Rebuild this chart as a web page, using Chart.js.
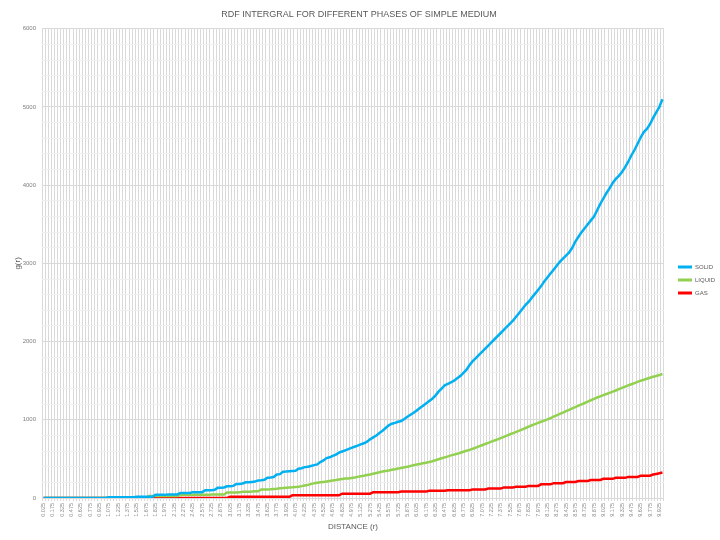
<!DOCTYPE html>
<html>
<head>
<meta charset="utf-8">
<script src="https://cdn.jsdelivr.net/npm/chart.js@4/dist/chart.umd.min.js"></script>
<style>
  html, body { margin: 0; padding: 0; background: #ffffff; }
  #wrap { width: 720px; height: 540px; }
</style>
</head>
<body>
<div id="wrap"><canvas id="rdfChart" width="720" height="540"></canvas></div>
<script>
// distance bins 0.025 .. 9.975, step 0.05
const distances = [];
for (let i = 0; i < 200; i++) distances.push((0.025 + i * 0.05).toFixed(3));

const solid = [
    0, 0, 0, 0, 0, 0, 0, 0, 0, 0,
    0, 0, 0, 0, 0, 0, 0, 0, 0, 0,
    0, 10, 10, 10, 10, 10, 10, 10, 10, 10,
    15, 15, 15, 15, 15, 15, 40, 40, 40, 40,
    45, 45, 45, 45, 65, 65, 65, 65, 75, 75,
    75, 75, 100, 100, 100, 105, 130, 130, 135, 150,
    150, 155, 180, 180, 185, 200, 200, 205, 210, 225,
    228, 232, 260, 262, 268, 300, 305, 335, 338, 342,
    345, 348, 375, 380, 395, 400, 410, 420, 430, 460,
    480, 510, 520, 540, 555, 580, 595, 610, 625, 640,
    655, 670, 685, 700, 720, 750, 775, 800, 830, 860,
    895, 930, 950, 960, 975, 985, 1010, 1040, 1065, 1090,
    1120, 1150, 1180, 1210, 1240, 1270, 1310, 1360, 1400, 1440,
    1460, 1480, 1500, 1530, 1560, 1600, 1640, 1700, 1750, 1790,
    1830, 1870, 1910, 1950, 1990, 2030, 2070, 2110, 2150, 2190,
    2230, 2270, 2320, 2370, 2420, 2470, 2510, 2560, 2610, 2660,
    2710, 2770, 2820, 2870, 2920, 2970, 3020, 3060, 3100, 3140,
    3200, 3280, 3340, 3400, 3450, 3500, 3550, 3600, 3680, 3760,
    3830, 3900, 3960, 4030, 4080, 4120, 4170, 4230, 4300, 4380,
    4450, 4530, 4610, 4680, 4720, 4780, 4860, 4930, 5000, 5100
];

const liquid = [
    0, 0, 0, 0, 0, 0, 0, 0, 0, 0,
    0, 0, 0, 0, 0, 0, 0, 0, 0, 0,
    0, 0, 0, 0, 0, 0, 0, 0, 0, 0,
    0, 0, 0, 0, 25, 25, 25, 25, 25, 25,
    25, 25, 25, 25, 40, 40, 40, 40, 40, 40,
    40, 40, 40, 40, 45, 45, 45, 45, 45, 70,
    70, 70, 70, 72, 80, 80, 80, 82, 85, 85,
    110, 110, 110, 112, 115, 118, 125, 128, 132, 135,
    138, 142, 145, 152, 160, 168, 178, 190, 195, 200,
    205, 210, 218, 225, 230, 236, 242, 248, 250, 256,
    262, 270, 278, 285, 293, 300, 310, 320, 330, 338,
    345, 352, 360, 368, 376, 384, 392, 400, 410, 420,
    428, 436, 444, 452, 460, 470, 482, 495, 508, 520,
    532, 545, 555, 565, 578, 592, 604, 616, 630, 645,
    660, 675, 690, 705, 720, 735, 750, 765, 782, 798,
    815, 830, 845, 862, 878, 895, 912, 930, 945, 960,
    975, 990, 1005, 1022, 1040, 1058, 1075, 1092, 1110, 1128,
    1145, 1162, 1180, 1198, 1215, 1232, 1250, 1268, 1285, 1300,
    1315, 1330, 1345, 1360, 1375, 1392, 1408, 1425, 1440, 1455,
    1470, 1485, 1500, 1512, 1525, 1538, 1550, 1560, 1572, 1585
];

const gas = [
    0, 0, 0, 0, 0, 0, 0, 0, 0, 0,
    0, 0, 0, 0, 0, 0, 0, 0, 0, 0,
    0, 0, 0, 0, 0, 0, 0, 0, 0, 0,
    0, 0, 0, 0, 0, 0, 0, 0, 0, 0,
    0, 0, 0, 0, 0, 0, 0, 0, 0, 0,
    0, 0, 0, 0, 0, 0, 0, 0, 0, 0,
    15, 15, 15, 15, 15, 15, 15, 15, 15, 15,
    15, 15, 15, 15, 15, 15, 15, 15, 15, 15,
    35, 35, 35, 35, 35, 35, 35, 35, 35, 35,
    35, 35, 35, 35, 35, 35, 55, 55, 55, 55,
    55, 55, 55, 55, 55, 55, 75, 75, 75, 75,
    75, 75, 75, 75, 75, 82, 82, 82, 82, 82,
    82, 82, 82, 82, 92, 92, 92, 92, 92, 92,
    100, 100, 100, 100, 100, 100, 100, 100, 110, 110,
    110, 110, 110, 120, 120, 120, 120, 120, 135, 135,
    135, 135, 145, 145, 145, 145, 155, 155, 155, 155,
    175, 175, 175, 175, 190, 190, 190, 190, 205, 205,
    205, 205, 218, 218, 218, 218, 230, 230, 230, 230,
    245, 245, 245, 245, 258, 258, 258, 258, 270, 270,
    270, 270, 285, 285, 285, 285, 300, 308, 316, 325
];

const seriesNames = ['SOLID', 'LIQUID', 'GAS'];
const seriesColors = ['#00b0f0', '#92d050', '#ff0000'];

const fontFamily = '"Liberation Sans", "DejaVu Sans", sans-serif';

// nudge the legend a bit right and down, like the original sheet
const legendNudge = {
    id: 'legendNudge',
    afterLayout(chart) {
        const lg = chart.legend;
        lg.left += 7; lg.right += 7;
        lg.top += 10; lg.bottom += 10;
    }
};

const rdfChart = document.querySelector('#rdfChart');

new Chart(rdfChart, {
    type: 'line',
    data: {
        labels: distances,
        datasets: [solid, liquid, gas].map((d, k) => ({
            label: seriesNames[k],
            data: d,
            borderColor: seriesColors[k],
            backgroundColor: seriesColors[k],
            borderWidth: 2.5,
            pointRadius: 0,
            tension: 0
        }))
    },
    plugins: [legendNudge],
    options: {
        responsive: false,
        animation: false,
        layout: { padding: { left: 0, right: 2, top: 0, bottom: 0 } },
        plugins: {
            title: {
                display: true,
                text: 'RDF INTERGRAL FOR DIFFERENT PHASES OF SIMPLE MEDIUM',
                color: '#595959',
                font: { family: fontFamily, size: 9, weight: 'normal' },
                padding: { top: 9, bottom: 9 }
            },
            legend: {
                position: 'right',
                labels: {
                    boxWidth: 14,
                    boxHeight: 3,
                    padding: 7,
                    color: '#595959',
                    font: { family: fontFamily, size: 6 },
                    generateLabels: (chart) =>
                        Chart.defaults.plugins.legend.labels.generateLabels(chart)
                            .map(l => ({ ...l, lineWidth: 0 }))
                }
            },
            tooltip: { enabled: false }
        },
        scales: {
            x: {
                offset: true,
                grid: { offset: true, color: '#d9d9d9', tickLength: 3 },
                border: { color: '#d9d9d9' },
                ticks: {
                    autoSkip: false,
                    minRotation: 90,
                    maxRotation: 90,
                    padding: 2,
                    color: '#8c8c8c',
                    font: { family: fontFamily, size: 5.5 },
                    callback: (v, i) => (i % 3 === 0 ? distances[i] : '')
                },
                title: {
                    display: true,
                    text: 'DISTANCE (r)',
                    color: '#595959',
                    font: { family: fontFamily, size: 8 },
                    padding: { top: 2, bottom: 8 }
                },
                afterFit: (s) => { s.height = 42; }
            },
            y: {
                min: 0,
                max: 6000,
                grid: {
                    drawTicks: false,
                    color: (c) => (c.tick && c.tick.value % 1000 === 0 ? '#d9d9d9' : '#efefef')
                },
                border: { display: false },
                ticks: {
                    stepSize: 200,
                    autoSkip: false,
                    padding: 6,
                    color: '#7f7f7f',
                    font: { family: fontFamily, size: 6 },
                    callback: (v) => (v % 1000 === 0 ? v : '')
                },
                title: {
                    display: true,
                    text: 'g(r)',
                    color: '#595959',
                    font: { family: fontFamily, size: 8 },
                    padding: { top: 13, bottom: 0 }
                },
                afterFit: (s) => { s.width = 42; }
            }
        }
    }
});
</script>
</body>
</html>
